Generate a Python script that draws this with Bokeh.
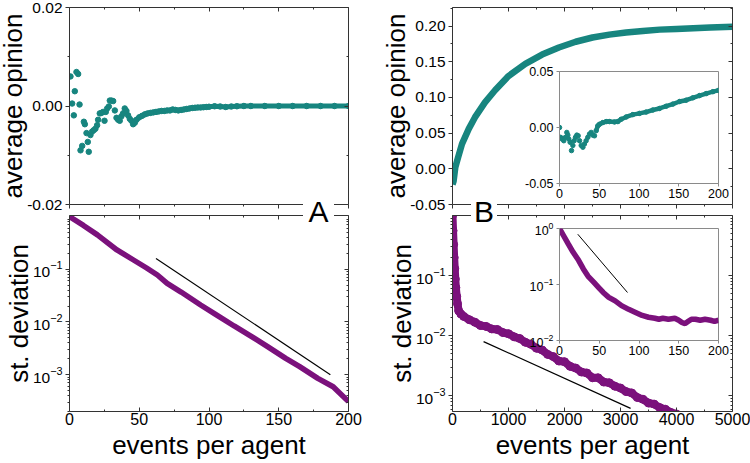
from bokeh.plotting import figure
from bokeh.models import (Range1d, LinearAxis, LogAxis, FixedTicker, NumeralTickFormatter,
                          CustomJSTickFormatter, Column, Div)
from bokeh.embed import file_html
from bokeh.resources import INLINE

# ---------------- data ----------------
# Panel A (top): average opinion, early sparse points
a_top_x = [0.7, 1.9, 3.1, 3.8, 5.0, 6.2, 7.2, 7.9, 9.1, 10.3,
           11.0, 12.2, 13.1, 13.8, 15.0, 16.2, 17.4, 18.6, 19.8, 20.5,
           21.7, 22.9, 24.1, 25.1, 26.0, 27.0, 28.2, 28.9, 30.1, 31.3,
           32.5, 33.7, 34.9, 36.0, 37.2, 38.4, 39.6, 40.8, 42.0, 43.2,
           44.4, 45.6, 46.8]
a_top_y = [0.0060, 0.0005, -0.0019, 0.0030, 0.0069, 0.0065, 0.0003, -0.0090, -0.0081, -0.0032,
           -0.0037, -0.0055, -0.0073, -0.0093, -0.0059, -0.0052, -0.0049, -0.0046, -0.0039, -0.0028,
           -0.0015, -0.0014, -0.0012, -0.0030, -0.0012, -0.0005, -0.0001, 0.0011, 0.0011, 0.0010,
           -0.0009, -0.0024, -0.0028, -0.0030, -0.0021, -0.0015, -0.0005, -0.0010, -0.0019, -0.0026,
           -0.0030, -0.0037, -0.0034]
# Panel A (top): dense tail
a_tail_x = [48, 50, 52, 54, 56, 58, 60, 62, 64, 66, 68, 70, 72, 74, 76, 78, 80, 82, 84, 86,
            88, 90, 92, 94, 96, 98, 100, 104, 108, 112, 116, 120, 125, 130, 140, 150, 160,
            170, 180, 190, 200]
a_tail_y = [-0.0028, -0.0023, -0.0020, -0.0017, -0.0015, -0.0014, -0.0013, -0.0012, -0.0011, -0.0010,
            -0.0010, -0.0009, -0.0009, -0.0007, -0.0008, -0.0009, -0.0008, -0.0007, -0.0006, -0.0005,
            -0.0004, -0.00035, -0.0003, -0.0003, -0.00025, -0.0002, -0.00015, -0.00005, -0.0001, -0.0002,
            -0.0001, -0.00005, 0.0, 0.0, 0.0, 0.0, 0.0, 0.0, 0.0, 0.0, 0.0]

# Panel A (bottom): st. deviation
a_bot_x = [0, 10, 20, 34, 45, 55, 63, 70, 80, 94, 105, 118, 130, 142, 155, 165, 178, 189, 200]
a_bot_y = [1.0, 0.68, 0.45, 0.233, 0.155, 0.107, 0.078, 0.054, 0.037, 0.021, 0.0138, 0.0084,
           0.0054, 0.0034, 0.00204, 0.00142, 0.00085, 0.00059, 0.00031]
a_ref_x = [62, 187]
a_ref_y = [0.16, 0.001]

# Panel B (top): average opinion
b_top_x = [0, 20, 50, 100, 170, 290, 400, 580, 760, 1000, 1300, 1600, 1900, 2200, 2500,
           2800, 3100, 3400, 3700, 4000, 4300, 4600, 5000]
b_top_y = [-0.022, -0.017, 0.002, 0.016, 0.035, 0.056, 0.072, 0.093, 0.110, 0.130, 0.147,
           0.160, 0.170, 0.178, 0.184, 0.188, 0.191, 0.193, 0.195, 0.196, 0.197, 0.198, 0.199]
# Panel B (top) inset
bi_top_x = [0, 1.3, 3.4, 5.4, 7.5, 9.2, 10.5, 11.7, 13.4, 15.1,
            16.8, 18.4, 20.1, 21.8, 23.5, 25.2, 27.3, 29.4, 31.4, 33.5,
            35.6, 37.7, 39.8, 41.9, 44.0, 46.1, 48.2, 50.3, 54.5, 58.7,
            62.9, 69.2, 73.4, 77.6, 83.9, 92.2, 100.6, 109, 117.4, 125.8,
            134.2, 142.6, 151, 159.3, 167.7, 176.1, 184.5, 192.9, 200]
bi_top_y = [0.0, -0.0088, -0.0103, -0.0118, -0.0088, -0.0044, -0.0068, -0.0103, -0.0132, -0.0206,
            -0.016, -0.0118, -0.0088, -0.0068, -0.0074, -0.0118, -0.016, -0.0176, -0.0147, -0.0118,
            -0.0088, -0.0059, -0.0044, -0.0068, -0.0074, -0.0029, 0.0015, 0.0029, 0.0044, 0.0053,
            0.0053, 0.005, 0.0053, 0.0074, 0.0094, 0.0115, 0.0126, 0.0138, 0.0156, 0.017,
            0.019, 0.0209, 0.0232, 0.0244, 0.0265, 0.0285, 0.0303, 0.032, 0.0332]

# Panel B (bottom): st. deviation
b_bot_x = [0, 10, 20, 30, 40, 50, 60, 75, 90, 110, 150, 200, 300, 400, 500, 600, 700, 800, 900, 1000,
           1100, 1200, 1300, 1400, 1500, 1600, 1700, 1800, 1900, 2000, 2100, 2200, 2300, 2400, 2500,
           2600, 2700, 2800, 2900, 3000, 3100, 3200, 3300, 3400, 3500, 3600, 3700, 3800, 3900, 4000]
b_bot_y = [1.0, 0.56, 0.33, 0.2, 0.13, 0.088, 0.063, 0.045, 0.034, 0.026,
           0.023, 0.021, 0.0185, 0.0168, 0.0148, 0.0143, 0.0130, 0.0127, 0.0113, 0.0108,
           0.0096, 0.0090, 0.0078, 0.0072, 0.0062, 0.0058, 0.0049, 0.0045, 0.0038, 0.0037,
           0.0031, 0.0029, 0.0025, 0.0024, 0.0020, 0.0020, 0.0017, 0.00165, 0.00145, 0.00135,
           0.00118, 0.00112, 0.00094, 0.00088, 0.00076, 0.00073, 0.00064, 0.0006, 0.00053, 0.0005]
b_ref_x = [555, 3180]
b_ref_y = [0.008, 0.00062]
# Panel B (bottom) inset
bi_bot_x = [0, 5, 11, 17, 24, 30, 36, 43, 49, 55, 62, 70, 78, 87, 95, 104, 112, 120, 125, 130,
            137, 145, 150, 154, 158, 162, 166, 171, 177, 183, 190, 195, 200]
bi_bot_y = [1.0, 0.75, 0.53, 0.38, 0.27, 0.19, 0.14, 0.11, 0.089, 0.072, 0.059, 0.051, 0.042,
            0.036, 0.032, 0.028, 0.026, 0.025, 0.024, 0.025, 0.024, 0.025, 0.023, 0.021, 0.02,
            0.022, 0.024, 0.024, 0.023, 0.024, 0.023, 0.022, 0.023]
bi_ref_x = [23, 85.5]
bi_ref_y = [0.79, 0.072]

# ticks
x200_ticks = [0, 50, 100, 150, 200]
x200_minor = [25, 75, 125, 175]
x5000_ticks = [0, 1000, 2000, 3000, 4000, 5000]
x5000_minor = [500, 1500, 2500, 3500, 4500]
a_top_yticks = [-0.02, 0.0, 0.02]
a_top_yminor = [-0.01, 0.01]
b_top_yticks = [-0.05, 0.0, 0.05, 0.10, 0.15, 0.20]
b_top_yminor = [-0.025, 0.025, 0.075, 0.125, 0.175, 0.225]
bi_top_yticks = [-0.05, 0.0, 0.05]
log_ticks_main = [1e-3, 1e-2, 1e-1]
log_ticks_inset = [1e-2, 1e-1, 1.0]
log_minor = [m * 10.0 ** e for e in range(-4, 1) for m in range(2, 10)]

TEAL = "#17857f"
PURPLE = "#7b117c"
FONT = "Liberation Sans"
AXC = "#333333"
INSC = "#8a8a8a"


def style_axis(ax, color, font_size, t_in, t_out, hide=False, lab_standoff=3, ax_standoff=2):
    ax.axis_line_color = color
    ax.major_tick_line_color = color
    ax.minor_tick_line_color = color
    ax.major_tick_in = t_in
    ax.major_tick_out = t_out
    ax.minor_tick_in = max(t_in - 2, 0) if t_in else 0
    ax.minor_tick_out = max(t_out - 2, 0) if t_out else 0
    ax.major_label_text_font = FONT
    ax.major_label_text_font_size = font_size
    ax.major_label_text_color = "black"
    ax.major_label_standoff = lab_standoff
    ax.axis_label_text_font = FONT
    ax.axis_label_text_font_style = "normal"
    ax.axis_label_text_font_size = "26px"
    ax.axis_label_text_color = "black"
    ax.axis_label_standoff = ax_standoff
    if hide:
        ax.formatter = CustomJSTickFormatter(code="return ''")


def panel(xr, yr, ylog, fl, ft, fw, fh, xt, xm, yt, ym, ylabel=None, xlabel=None,
          inset=False, show_x=False):
    ml, mt, mr, mb = (100, 26, 26, 70) if not inset else (100, 12, 26, 30)
    p = figure(x_range=Range1d(*xr), y_range=Range1d(*yr),
               y_axis_type="log" if ylog else "linear",
               frame_width=fw, frame_height=fh,
               min_border_left=ml, min_border_right=mr, min_border_top=mt, min_border_bottom=mb,
               toolbar_location=None, output_backend="svg", border_fill_alpha=0)
    p.grid.visible = False
    p.styles = {"position": "absolute", "left": f"{fl - ml}px", "top": f"{ft - mt}px"}
    color = INSC if inset else AXC
    tfs = "12.5px" if inset else "15.5px"
    xa = p.xaxis[0]
    ya = p.yaxis[0]
    xa.ticker = FixedTicker(ticks=xt, minor_ticks=xm)
    ya.ticker = FixedTicker(ticks=yt, minor_ticks=ym)
    if not ylog:
        ya.formatter = NumeralTickFormatter(format="0.00")
    style_axis(ya, color, tfs, 0, 4 if not inset else 3, ax_standoff=-4)
    if inset:
        style_axis(xa, color, tfs, 0, 3, hide=not show_x, lab_standoff=2)
    elif show_x:
        style_axis(xa, color, "16px", 4, 0, lab_standoff=1, ax_standoff=2)
    else:
        style_axis(xa, color, tfs, 0, 4, hide=True)
    if ylabel:
        ya.axis_label = ylabel
    if xlabel:
        xa.axis_label = xlabel
    if inset:
        p.background_fill_color = "white"
        p.outline_line_color = INSC
    else:
        p.background_fill_alpha = 0
        p.outline_line_color = None
        top = LinearAxis(ticker=FixedTicker(ticks=xt, minor_ticks=xm))
        style_axis(top, color, tfs, 4, 0, hide=True)
        p.add_layout(top, "above")
        right = (LogAxis if ylog else LinearAxis)(ticker=FixedTicker(ticks=yt, minor_ticks=ym))
        style_axis(right, color, tfs, 4, 0, hide=True)
        p.add_layout(right, "right")
    return p


def tag(text, left, width):
    return Div(text=text, width=width, height=30, margin=0,
               styles={"position": "absolute", "left": f"{left}px", "top": "197px",
                       "background-color": "white", "font-family": FONT, "font-size": "30px",
                       "line-height": "30px", "text-align": "center", "color": "black"})


# ---- Panel A top
pa_top = panel((0, 200), (-0.02, 0.02), False, 69, 7, 279, 197,
               x200_ticks, x200_minor, a_top_yticks, a_top_yminor, ylabel="average opinion")
pa_top.line(a_tail_x, a_tail_y, line_color=TEAL, line_width=5)
pa_top.scatter(a_top_x + a_tail_x, a_top_y + a_tail_y, size=5.5, color=TEAL)

# ---- Panel B top
pb_top = panel((0, 5000), (-0.05, 0.226), False, 452, 7, 280, 197,
               x5000_ticks, x5000_minor, b_top_yticks, b_top_yminor, ylabel="average opinion")
pb_top.line(b_top_x, b_top_y, line_color=TEAL, line_width=6.5)

# ---- Panel A bottom
pa_bot = panel((0, 200), (2e-4, 1.05), True, 69, 215, 279, 196,
               x200_ticks, x200_minor, log_ticks_main, log_minor,
               ylabel="st. deviation", xlabel="events per agent", show_x=True)
pa_bot.line(a_bot_x, a_bot_y, line_color=PURPLE, line_width=5.5)
pa_bot.line(a_ref_x, a_ref_y, line_color="black", line_width=1.2)

# ---- Panel B bottom
pb_bot = panel((0, 5000), (5.5e-4, 1.0), True, 452, 215, 280, 196,
               x5000_ticks, x5000_minor, log_ticks_main, log_minor,
               ylabel="st. deviation", xlabel="events per agent", show_x=True)
pb_bot.line(b_bot_x, b_bot_y, line_color=PURPLE, line_width=8)
pb_bot.scatter(b_bot_x, b_bot_y, size=8, color=PURPLE)
pb_bot.line(b_ref_x, b_ref_y, line_color="black", line_width=1.2)

# ---- Insets
pi_top = panel((0, 200), (-0.05, 0.05), False, 559, 71, 159, 112,
               x200_ticks, [], bi_top_yticks, [], inset=True, show_x=True)
pi_top.line(bi_top_x[25:], bi_top_y[25:], line_color=TEAL, line_width=4.5)
pi_top.scatter(bi_top_x, bi_top_y, size=4.5, color=TEAL)

pi_bot = panel((0, 200), (0.01, 1.0), True, 559, 228, 159, 112,
               x200_ticks, [], log_ticks_inset, [], inset=True, show_x=True)
pi_bot.line(bi_bot_x, bi_bot_y, line_color=PURPLE, line_width=5.5)
pi_bot.line(bi_ref_x, bi_ref_y, line_color="black", line_width=1)

tag_a = tag("A", 303, 31)
tag_b = tag("B", 471, 26)

root = Column(children=[pa_top, pb_top, pa_bot, pb_bot, pi_top, pi_bot, tag_a, tag_b],
              width=750, height=463, sizing_mode="fixed",
              styles={"position": "relative", "overflow": "hidden"})

open("out.html", "w").write(file_html(root, INLINE))
